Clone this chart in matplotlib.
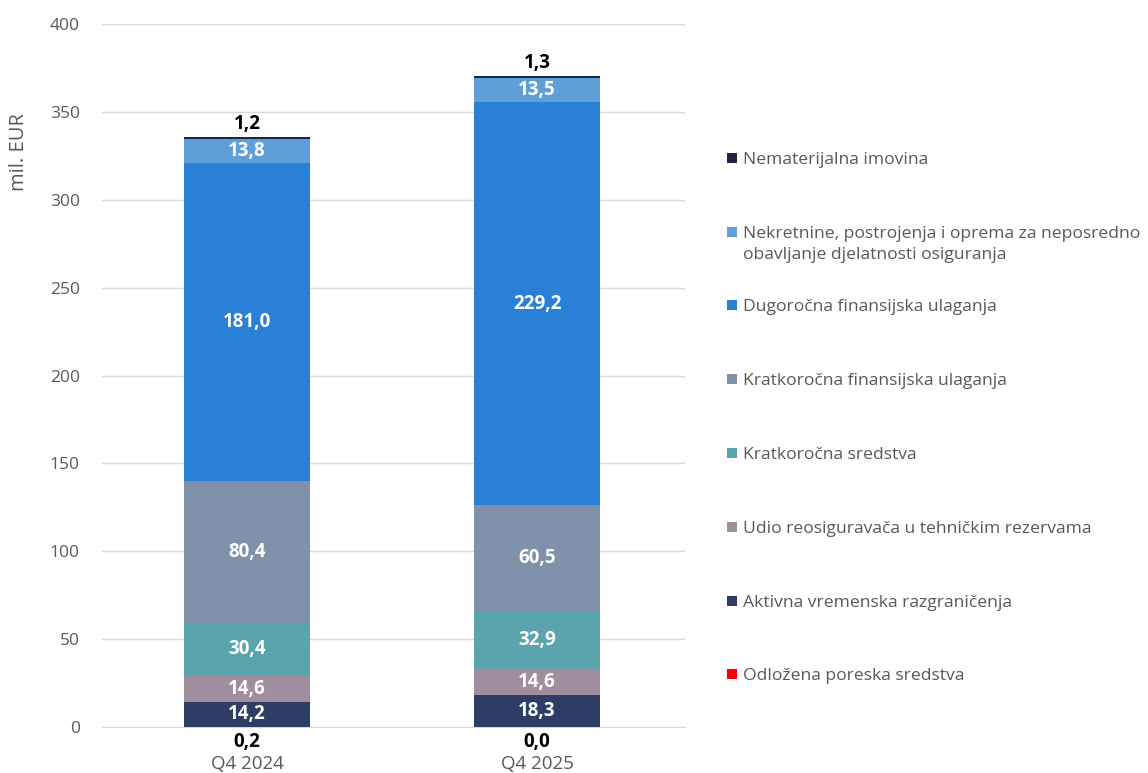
import numpy as np
import matplotlib.pyplot as plt
from matplotlib.patches import Rectangle

plt.switch_backend("agg")
plt.rcParams["font.family"] = ["Open Sans", "DejaVu Sans"]

categories = ["Q4 2024", "Q4 2025"]

# bottom to top
series = [
    "Odložena poreska sredstva",
    "Aktivna vremenska razgraničenja",
    "Udio reosiguravača u tehničkim rezervama",
    "Kratkoročna sredstva",
    "Kratkoročna finansijska ulaganja",
    "Dugoročna finansijska ulaganja",
    "Nekretnine, postrojenja i oprema za neposredno\nobavljanje djelatnosti osiguranja",
    "Nematerijalna imovina",
]
odlozena = [0.2, 0.0]
aktivna = [14.2, 18.3]
udio = [14.6, 14.6]
kratk_sred = [30.4, 32.9]
kratk_fin = [80.4, 60.5]
dugor_fin = [181.0, 229.2]
nekretnine = [13.8, 13.5]
nematerijalna = [1.2, 1.3]

values = [odlozena, aktivna, udio, kratk_sred, kratk_fin, dugor_fin, nekretnine, nematerijalna]
colors = ["#FF0000", "#2E3D66", "#A08E9E", "#5AA4AE", "#8091AA", "#2A7FD7", "#5F9FD7", "#1E2448"]

W, H = 1148, 773
fig = plt.figure(figsize=(W / 100, H / 100), dpi=100)
ax = fig.add_axes([102 / W, 46 / H, 583 / W, 703 / H])

x = np.arange(len(categories))
bottom = np.zeros(len(categories))
for i, (name, vals, col) in enumerate(zip(series, values, colors)):
    vals = np.array(vals)
    ax.bar(x, vals, 0.435, bottom=bottom, color=col, label=name, zorder=3)
    for xi, v, b in zip(x, vals, bottom):
        txt = f"{v:.1f}".replace(".", ",")
        if i == 0:
            ax.annotate(txt, (xi, 0), xytext=(0, -10.5), textcoords="offset points",
                        ha="center", va="center", fontsize=13.5, fontweight="bold", color="black")
        elif i == len(series) - 1:
            ax.annotate(txt, (xi, b + v), xytext=(0, 9.5), textcoords="offset points",
                        ha="center", va="center", fontsize=13.5, fontweight="bold", color="black")
        else:
            ax.text(xi, b + v / 2, txt, ha="center", va="center", fontsize=13.5,
                    fontweight="bold", color="white", zorder=4)
    bottom += vals

ax.set_xlim(-0.5, 1.51)
ax.set_ylim(0, 400)
ax.set_yticks(np.arange(0, 401, 50))
ax.set_xticks(x)
ax.set_xticklabels(categories)
ax.grid(axis="y", color="#D9D9D9", linewidth=1, zorder=0)
for s in ["top", "right", "left"]:
    ax.spines[s].set_visible(False)
ax.spines["bottom"].set_color("#D9D9D9")
ax.tick_params(axis="both", length=0, colors="#595959")
ax.tick_params(axis="y", pad=16, labelsize=12.5)
ax.tick_params(axis="x", pad=20, labelsize=13.5)
ax.set_ylabel("mil. EUR", fontsize=14.5, color="#595959")
ax.yaxis.set_label_coords(-0.126, 0.818)

# legend, top to bottom, drawn by hand to match the wide spacing
leg_y = [158, 232, 305, 379, 453, 527, 601, 674]
for yy, lab, col in zip(leg_y, series[::-1], colors[::-1]):
    fig.add_artist(Rectangle((727 / W, 1 - (yy + 5) / H), 10 / W, 10 / H,
                             transform=fig.transFigure, facecolor=col, edgecolor="none"))
    fig.text(743 / W, 1 - (yy - 6) / H, lab, ha="left", va="top", fontsize=12.6,
             color="#595959", linespacing=1.45)

fig.savefig("out.png", dpi=100)
